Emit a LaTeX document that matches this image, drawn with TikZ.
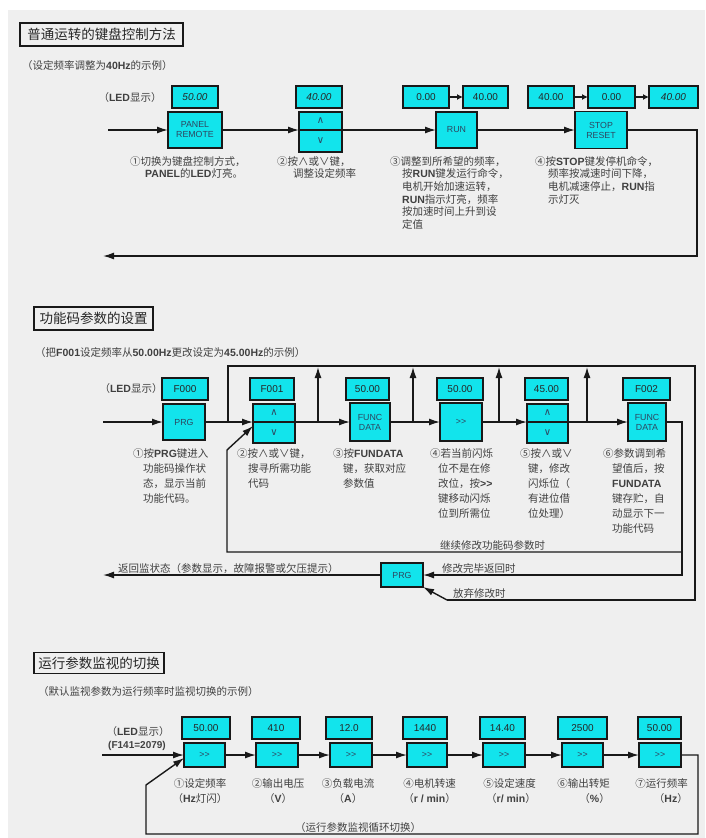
\documentclass[tikz,border=0pt]{standalone}
\usepackage{fontspec}
\setmainfont{Liberation Sans}
\newfontfamily\cjk{Noto Sans CJK SC}
\newfontfamily\lat{Liberation Sans}
\newfontfamily\dv{DejaVu Sans}
\usetikzlibrary{arrows.meta,calc}
\definecolor{bggray}{HTML}{EFEFEF}
\definecolor{keycyan}{HTML}{12E4EC}
\definecolor{txtgray}{HTML}{404040}
\definecolor{keytxt}{HTML}{2E4660}
\newcommand\Lb[1]{{\lat\bfseries #1}}
\newcommand\ledbox[5]{\node[led, minimum width=#4] (#1) at (#2,#3) {#5};}
\newcommand\keybox[6]{\node[key, minimum width=#4, minimum height=#5] (#1) at (#2,#3) {#6};}
\newcommand\kup{{\dv\fontsize{10}{10}\selectfont ∧}}
\newcommand\kdn{{\dv\fontsize{10}{10}\selectfont ∨}}
\begin{document}
\begin{tikzpicture}[x=1pt,y=-1pt,
  box/.style={draw=black!90, line width=1.3pt, fill=keycyan, inner sep=0pt, outer sep=0pt},
  led/.style={box, minimum height=22, font=\fontsize{10}{11}\selectfont, text=black!85},
  key/.style={box, font=\fontsize{8.8}{10}\selectfont, text=keytxt, align=center},
  conn/.style={line width=1.4pt, draw=black!90},
  arr/.style={conn, -{Latex[length=11pt,width=7pt]}},
  sarr/.style={conn, -{Latex[length=6pt,width=6pt]}},
  titlebox/.style={draw=black!90, line width=1.3pt, inner sep=0pt, font=\cjk\fontsize{13.5}{15}\selectfont, text=black!85},
  subtxt/.style={anchor=west, inner sep=0pt, font=\cjk\fontsize{10.5}{12}\selectfont, text=txtgray},
  lbl/.style={inner sep=0pt, font=\cjk\fontsize{10.5}{12}\selectfont, text=txtgray},
  lab/.style={anchor=base west, inner sep=0pt, font=\cjk\fontsize{10.5}{12}\selectfont, text=txtgray},
  descA/.style={anchor=north west, inner sep=0pt, align=left, font=\cjk\fontsize{10.5}{12.7}\selectfont, text=txtgray},
  descB/.style={anchor=north west, inner sep=0pt, align=left, font=\cjk\fontsize{10.5}{15}\selectfont, text=txtgray},
  descC/.style={inner sep=0pt, font=\cjk\fontsize{10.5}{15}\selectfont, text=txtgray}
]
\useasboundingbox (0,0) rectangle (705,838);
\fill[white] (0,0) rectangle (705,838);
\fill[bggray] (8,10) rectangle (705,838);

% ---------------- Section 1 ----------------
\node[titlebox, minimum width=163, minimum height=23] (t1) at (101.5,34.5) {普通运转的键盘控制方法};
\node[subtxt] (st1) at (22,66) {（设定频率调整为\Lb{40Hz}的示例）};
\node[lbl] (ledlbl1) at (130,98) {（\Lb{LED}显示）};

\ledbox{l1a}{195}{97}{46}{\textit{50.00}}
\ledbox{l1b}{319}{97}{46}{\textit{40.00}}
\ledbox{l1c}{426}{97}{46}{0.00}
\ledbox{l1d}{485.5}{97}{45}{40.00}
\ledbox{l1e}{551}{97}{46}{40.00}
\ledbox{l1f}{611.5}{97}{47}{0.00}
\ledbox{l1g}{673.5}{97}{49}{\textit{40.00}}

\keybox{k1a}{195}{130}{54}{36}{PANEL\\REMOTE}
\keybox{k1up}{320.5}{121}{43}{18}{\kup}
\keybox{k1dn}{320.5}{141}{43}{22}{\kdn}
\keybox{k1b}{456.5}{130}{41}{36}{RUN}
\keybox{k1c}{601}{130}{52}{37}{STOP\\RESET}

\draw[sarr] (l1c) -- (l1d);
\draw[sarr] (l1e) -- (l1f);
\draw[sarr] (l1f) -- (l1g);

\coordinate (s1) at (108,130);
\coordinate (r1) at (697,130);
\coordinate (r2) at (697,256);
\coordinate (e1) at (103,256);
\draw[arr] (s1) -- (k1a.west);
\draw[arr] (k1a.east) -- (k1dn.north west);
\draw[arr] (k1dn.north east) -- (k1b.west);
\draw[arr] (k1b.east) -- (k1c.west);
\draw[arr] (k1c.east) -- (r1) -- (r2) -- (e1);

\node[descA] (d1a) at (130,156) {①切换为键盘控制方式，\\\hspace*{15pt}\Lb{PANEL}的\Lb{LED}灯亮。};
\node[descA] (d1b) at (277,156) {②按∧或∨键，\\\hspace*{16pt}调整设定频率};
\node[descA] (d1c) at (390,156) {③调整到所希望的频率，\\\hspace*{12pt}按\Lb{RUN}键发运行命令，\\\hspace*{12pt}电机开始加速运转，\\\hspace*{12pt}\Lb{RUN}指示灯亮，频率\\\hspace*{12pt}按加速时间上升到设\\\hspace*{12pt}定值};
\node[descA] (d1d) at (535,156) {④按\Lb{STOP}键发停机命令，\\\hspace*{13pt}频率按减速时间下降，\\\hspace*{13pt}电机减速停止，\Lb{RUN}指\\\hspace*{13pt}示灯灭};

% ---------------- Section 2 ----------------
\node[titlebox, minimum width=119, minimum height=23] (t2) at (93.5,318.5) {功能码参数的设置};
\node[subtxt] (st2) at (35,353) {（把\Lb{F001}设定频率从\Lb{50.00Hz}更改设定为\Lb{45.00Hz}的示例）};
\node[lbl] (ledlbl2) at (131,389) {（\Lb{LED}显示）};

\ledbox{l2a}{185}{389}{46}{F000}
\ledbox{l2b}{272}{389}{44}{F001}
\ledbox{l2c}{367.5}{389}{43}{50.00}
\ledbox{l2d}{460}{389}{46}{50.00}
\ledbox{l2e}{546.5}{389}{43}{45.00}
\ledbox{l2f}{646.5}{389}{47}{F002}

\keybox{prg}{184}{422}{42}{36}{PRG}
\keybox{up2}{274}{413}{42}{18}{\kup}
\keybox{dn2}{274}{432.5}{42}{21}{\kdn}
\keybox{func1}{370}{422}{40}{38}{FUNC\\DATA}
\keybox{sh}{461}{422}{42}{38}{>\kern0pt>}
\keybox{up5}{547.5}{413}{41}{18}{\kup}
\keybox{dn5}{547.5}{432.5}{41}{21}{\kdn}
\keybox{func2}{647}{422}{38}{38}{FUNC\\DATA}
\keybox{prgB}{402}{575}{42}{24}{PRG}

\coordinate (s2) at (103,422);
\draw[arr] (s2) -- (prg.west);
\draw[arr] (prg.east) -- (dn2.north west);
\draw[arr] (dn2.north east) -- (func1.west);
\draw[arr] (func1.east) -- (sh.west);
\draw[arr] (sh.east) -- (dn5.north west);
\draw[arr] (dn5.north east) -- (func2.west);

% top bus and abandon path
\coordinate (b1) at (228,422);
\coordinate (b2) at (228,366);
\coordinate (b3) at (695,366);
\coordinate (b4) at (695,600);
\coordinate (b5) at (447,600);
\draw[conn] (b1) -- (b2) -- (b3) -- (b4) -- (b5);
\draw[arr] (b5) -- (prgB.south east);
\foreach \ux in {318,413,499,587}{
  \coordinate (ua\ux) at (\ux,422);
  \coordinate (ub\ux) at (\ux,367);
  \draw[arr] (ua\ux) -- (ub\ux);
}
% finish path
\coordinate (c1) at (682,422);
\coordinate (c2) at (682,575);
\draw[arr] (func2.east) -- (c1) -- (c2) -- (prgB.east);
% continue path
\coordinate (c3) at (682,552);
\coordinate (c4) at (227,552);
\coordinate (c5) at (227,450);
\draw[arr] (c3) -- (c4) -- (c5) -- ([yshift=-4pt]dn2.north west);
% return
\coordinate (e2) at (103,575);
\draw[arr] (prgB.west) -- (e2);

\node[lab] (lb1) at (118,572) {返回监状态（参数显示，故障报警或欠压提示）};
\node[lab] (lb2) at (440,549) {继续修改功能码参数时};
\node[lab] (lb3) at (442,572) {修改完毕返回时};
\node[lab] (lb4) at (453,597) {放弃修改时};

\node[descB] (d2a) at (133,448) {①按\Lb{PRG}键进入\\\hspace*{10pt}功能码操作状\\\hspace*{10pt}态，显示当前\\\hspace*{10pt}功能代码。};
\node[descB] (d2b) at (237,448) {②按∧或∨键，\\\hspace*{11pt}搜寻所需功能\\\hspace*{11pt}代码};
\node[descB] (d2c) at (333,448) {③按\Lb{FUNDATA}\\\hspace*{10pt}键，获取对应\\\hspace*{10pt}参数值};
\node[descB] (d2d) at (430,448) {④若当前闪烁\\\hspace*{8pt}位不是在修\\\hspace*{8pt}改位，按\Lb{>\kern0pt>}\\\hspace*{8pt}键移动闪烁\\\hspace*{8pt}位到所需位};
\node[descB] (d2e) at (520,448) {⑤按∧或∨\\\hspace*{8pt}键，修改\\\hspace*{8pt}闪烁位（\\\hspace*{8pt}有进位借\\\hspace*{8pt}位处理）};
\node[descB] (d2f) at (603,448) {⑥参数调到希\\\hspace*{9pt}望值后，按\\\hspace*{9pt}\Lb{FUNDATA}\\\hspace*{9pt}键存贮，自\\\hspace*{9pt}动显示下一\\\hspace*{9pt}功能代码};

% ---------------- Section 3 ----------------
\node[titlebox, minimum width=130, minimum height=21] (t3) at (99,663) {运行参数监视的切换};
\node[subtxt] (st3) at (38,692) {（默认监视参数为运行频率时监视切换的示例）};
\node[lbl] (ledlbl3) at (138,731) {（\Lb{LED}显示）};
\node[lbl, font=\lat\bfseries\fontsize{10}{12}\selectfont] (f141) at (137,746) {(F141=2079)};

\ledbox{m1l}{206}{728}{48}{50.00}
\ledbox{m2l}{276}{728}{48}{410}
\ledbox{m3l}{349}{728}{46}{12.0}
\ledbox{m4l}{425}{728}{44}{1440}
\ledbox{m5l}{502.5}{728}{45}{14.40}
\ledbox{m6l}{582.5}{728}{49}{2500}
\ledbox{m7l}{659.5}{728}{43}{50.00}

\keybox{m1}{204.5}{755}{41}{24}{>\kern0pt>}
\keybox{m2}{277}{755}{42}{24}{>\kern0pt>}
\keybox{m3}{351}{755}{42}{24}{>\kern0pt>}
\keybox{m4}{427}{755}{40}{24}{>\kern0pt>}
\keybox{m5}{504}{755}{42}{24}{>\kern0pt>}
\keybox{m6}{582.5}{755}{41}{24}{>\kern0pt>}
\keybox{m7}{660}{755}{42}{24}{>\kern0pt>}

\coordinate (s3) at (102,755);
\draw[arr] (s3) -- (m1.west);
\draw[arr] (m1.east) -- (m2.west);
\draw[arr] (m2.east) -- (m3.west);
\draw[arr] (m3.east) -- (m4.west);
\draw[arr] (m4.east) -- (m5.west);
\draw[arr] (m5.east) -- (m6.west);
\draw[arr] (m6.east) -- (m7.west);
\coordinate (q1) at (698,755);
\coordinate (q2) at (698,834);
\coordinate (q3) at (146,834);
\coordinate (q4) at (146,785);
\draw[arr] (m7.east) -- (q1) -- (q2) -- (q3) -- (q4) -- ([yshift=-3pt]m1.west);
\node[lab] (lb5) at (295,831) {（运行参数监视循环切换）};

\node[descC, anchor=north, align=center] (d3a) at (200,778) {①设定频率\\（\Lb{Hz}灯闪）};
\node[descC, anchor=north, align=center] (d3b) at (278,778) {②输出电压\\（\Lb{V}）};
\node[descC, anchor=north, align=center] (d3c) at (348,778) {③负载电流\\（\Lb{A}）};
\node[descC, anchor=north east, align=right] (d3d) at (456,778) {④电机转速\\（\Lb{r / min}）};
\node[descC, anchor=north east, align=right] (d3e) at (536,778) {⑤设定速度\\（\Lb{r/ min}）};
\node[descC, anchor=north east, align=right] (d3f) at (610,778) {⑥输出转矩\\（\Lb{\%}）};
\node[descC, anchor=north east, align=right] (d3g) at (688,778) {⑦运行频率\\（\Lb{Hz}）};
\end{tikzpicture}
\end{document}
